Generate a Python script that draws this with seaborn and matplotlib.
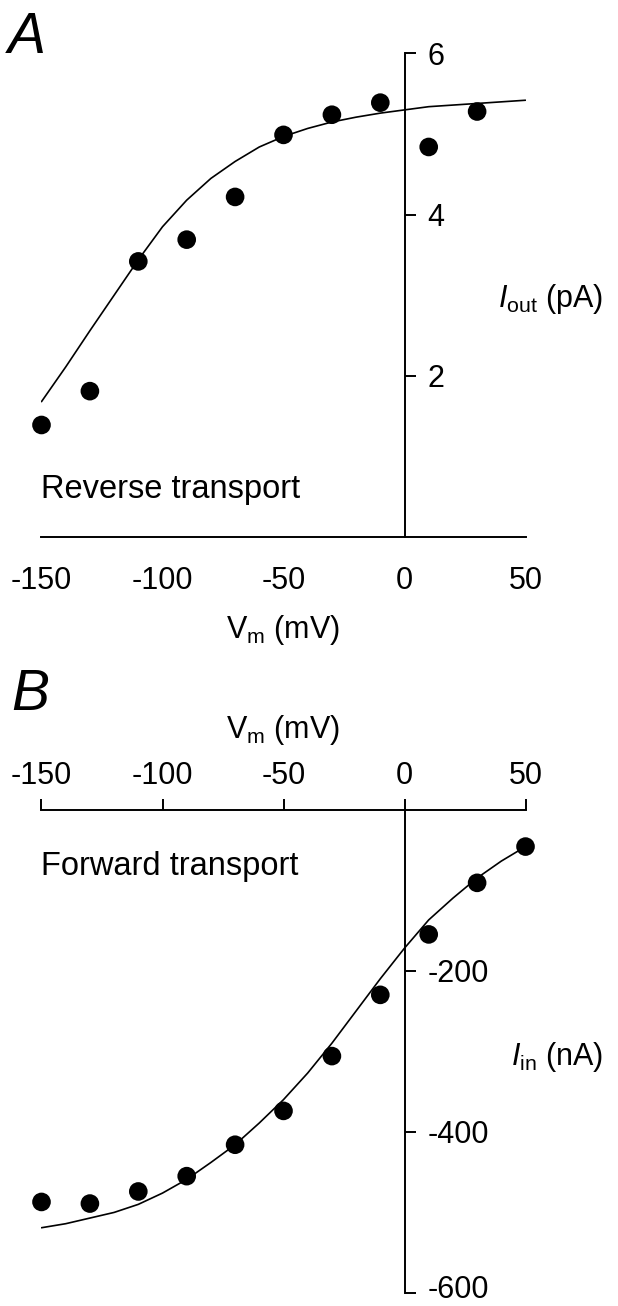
import matplotlib
matplotlib.use("Agg")
import matplotlib.pyplot as plt
import matplotlib.transforms as mtrans
import numpy as np
import pandas as pd
import seaborn as sns

# Panel A: reverse transport (pA)
va_pts = [-150, -130, -110, -90, -70, -50, -30, -10, 10, 30]
ia_pts = [1.39, 1.81, 3.42, 3.69, 4.22, 4.99, 5.24, 5.39, 4.84, 5.28]
va_fit = [-150, -140, -130, -120, -110, -100, -90, -80, -70, -60, -50,
          -40, -30, -20, -10, 0, 10, 20, 30, 40, 50]
ia_fit = [1.68, 2.11, 2.56, 3.00, 3.44, 3.85, 4.18, 4.45, 4.66, 4.84, 4.97,
          5.07, 5.15, 5.21, 5.26, 5.30, 5.34, 5.36, 5.38, 5.40, 5.42]

# Panel B: forward transport (nA)
vb_pts = [-150, -130, -110, -90, -70, -50, -30, -10, 10, 30, 50]
ib_pts = [-487, -489, -474, -455, -416, -374, -306, -230, -155, -91, -46]
vb_fit = va_fit
ib_fit = [-519, -514, -507, -500, -490, -476, -459, -438, -416, -389, -360,
          -327, -290, -250, -210, -172, -137, -110, -85, -64, -46]

x_ticks = [-150, -100, -50, 0, 50]

sns.set_theme(style="white")
plt.rcParams["font.family"] = ["Liberation Sans", "DejaVu Sans"]
plt.rcParams["mathtext.fontset"] = "custom"
plt.rcParams["mathtext.rm"] = "Liberation Sans"
plt.rcParams["mathtext.it"] = "Liberation Sans:italic"
plt.rcParams["axes.unicode_minus"] = False
plt.rcParams["text.color"] = "black"
plt.rcParams["axes.labelcolor"] = "black"

fig = plt.figure(figsize=(6.18, 13.06), dpi=100)
axA = fig.add_axes([0.06715, 0.58882, 0.7832, 0.37022])
axB = fig.add_axes([0.06715, 0.00995, 0.7832, 0.37021])

dfA = pd.DataFrame({"V": va_pts, "I": ia_pts})
dfA_fit = pd.DataFrame({"V": va_fit, "I": ia_fit})
dfB = pd.DataFrame({"V": vb_pts, "I": ib_pts})
dfB_fit = pd.DataFrame({"V": vb_fit, "I": ib_fit})

for ax, pts, fit in [(axA, dfA, dfA_fit), (axB, dfB, dfB_fit)]:
    sns.lineplot(data=fit, x="V", y="I", ax=ax, color="black", lw=1.2,
                 estimator=None, sort=False)
    sns.scatterplot(data=pts, x="V", y="I", ax=ax, color="black", s=180,
                    edgecolor="none", clip_on=False, zorder=3)
    ax.set_xlim(-150, 50)
    ax.set_xticks(x_ticks)
    ax.spines["left"].set_visible(False)
    ax.spines["right"].set_position(("data", 0))
    for s in ax.spines.values():
        s.set_linewidth(1.4)
        s.set_color("black")
    ax.yaxis.tick_right()
    ax.yaxis.set_label_position("right")
    ax.tick_params(axis="both", direction="out", length=7.6, width=1.4,
                   colors="black", labelcolor="black", labelsize=22)
    ax.tick_params(axis="y", pad=9)
    ax.set_facecolor("none")

# panel A layout
axA.set_ylim(0, 6)
axA.set_yticks([2, 4, 6])
axA.spines["top"].set_visible(False)
axA.tick_params(axis="x", pad=13)
axA.set_xlabel(r"V$_{\mathrm{m}}$ (mV)", fontsize=22, va="center")
axA.xaxis.set_label_coords(0.5, -0.1924)
axA.set_ylabel(r"$I_{\mathrm{out}}$ (pA)", fontsize=22, rotation=0,
               ha="right", va="center")
axA.yaxis.set_label_coords(1.1601, 0.492)
axA.text(-150, 0.48, "Reverse transport", fontsize=23.5, va="baseline")

# panel B layout
axB.set_ylim(-600, 0)
axB.set_yticks([-200, -400, -600])
axB.spines["bottom"].set_visible(False)
axB.xaxis.tick_top()
axB.xaxis.set_label_position("top")
axB.tick_params(axis="x", pad=6)
axB.set_xlabel(r"V$_{\mathrm{m}}$ (mV)", fontsize=22, va="center")
axB.xaxis.set_label_coords(0.5, 1.1644)
axB.set_ylabel(r"$I_{\mathrm{in}}$ (nA)", fontsize=22, rotation=0,
               ha="right", va="center")
axB.yaxis.set_label_coords(1.1601, 0.489)
axB.text(-150, -81, "Forward transport", fontsize=23.5, va="baseline")

fig.text(8 / 618, 1 - 53 / 1306, "A", fontsize=41, style="italic",
         va="baseline")
fig.text(11 / 618, 1 - 710 / 1306, "B", fontsize=41, style="italic",
         va="baseline")

# nudge the bottom tick label (-600) up a little so it stays inside the figure
fig.canvas.draw()
for tick in axB.yaxis.get_major_ticks():
    if tick.get_loc() == -600:
        lbl = tick.label2
        lbl.set_transform(lbl.get_transform() +
                          mtrans.ScaledTranslation(0, 5 / 72, fig.dpi_scale_trans))

fig.savefig("out.png", dpi=100, facecolor="white")
